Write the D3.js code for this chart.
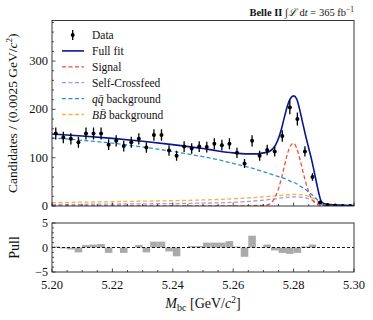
<!DOCTYPE html>
<html>
<head>
<meta charset="utf-8">
<script src="https://cdn.jsdelivr.net/npm/d3@7"></script>
<style>
  body { margin: 0; background: #fff; }
  text { font-family: "Liberation Serif", "DejaVu Serif", serif; fill: #111; }
</style>
</head>
<body>
<div id="chart"></div>
<script>
// binned data, 0.0025 GeV/c^2 per bin, 5.20 - 5.30
const BIN_LO = 5.20;
const BIN_W = 0.0025;
const COUNTS = [150, 142, 139, 132, 150, 150, 150, 127, 135, 124,
                132, 139, 121, 147, 147, 115, 104, 123, 119, 123,
                122, 129, 126, 129, 110, 88, 135, 104, 116, 113,
                145, 204, 180, 113, 60, 7, 2, 1, 0, 0];
const PULLS = [0.2, -0.2, -0.4, -1.0, 0.5, 0.6, 0.7, -1.1, 0.0, -1.1,
               0.0, 0.5, -1.0, 1.2, 1.2, -0.8, -1.8, 0.0, 0.3, 0.3,
               1.0, 1.0, 1.0, 1.3, 0.2, -1.9, 2.4, -0.1, 0.6, -0.6,
               -1.1, -1.3, -1.1, 0.2, 0.6, 0.0, 0.0, 0.0, 0.0, 0.0];

// fit curves sampled at these masses
const X_GRID = [5.200, 5.210, 5.220, 5.230, 5.240, 5.250, 5.255, 5.260, 5.264, 5.268,
                5.270, 5.272, 5.274, 5.275, 5.276, 5.277, 5.278, 5.279, 5.280, 5.281,
                5.282, 5.283, 5.284, 5.285, 5.286, 5.287, 5.288, 5.289, 5.290, 5.292,
                5.295, 5.300];
const FULL_FIT = [149, 145, 140, 134, 127, 119, 114, 110, 108, 108,
                  110, 113, 126, 140, 160, 185, 208, 223, 228, 222,
                  200, 172, 145, 120, 95, 66, 36, 12, 5, 3,
                  2, 1];
const SIGNAL = [0, 0, 0, 0, 0, 0, 0, 0, 0, 1,
                1, 4, 20, 36, 58, 84, 109, 125, 130, 120,
                99, 74, 49, 29, 15, 7, 3, 1, 0, 0,
                0, 0];
const SELF_CF = [3, 3.5, 4, 4.5, 5, 6, 6.5, 7.5, 9, 11,
                 12, 13.5, 15, 16, 17, 17.5, 18, 18.5, 19, 19,
                 18.5, 18, 17, 15, 12.5, 9.5, 6, 3, 1, 0,
                 0, 0];
const QQ_BKG = [141, 136, 130, 122, 113, 102, 96, 88, 82, 75,
                71, 67, 63, 61, 59, 57, 54, 51, 49, 46,
                42, 38, 34, 29, 24, 18, 12, 6, 1, 0,
                0, 0];
const BB_BKG = [7, 8, 9, 10, 11, 12.5, 13.5, 15, 16.5, 18,
                19, 20, 21, 21.5, 22, 22.5, 23, 23.5, 24, 24,
                23.5, 23, 22, 20, 17.5, 14, 9.5, 5, 1.5, 0,
                0, 0];

const X_TICKS = [5.20, 5.22, 5.24, 5.26, 5.28, 5.30];
const Y_TICKS = [0, 100, 200, 300];
const PULL_TICKS = [-5, 0, 5];

const W = 373, H = 320;
const left = 52, right = 354;
const mainTop = 20.5, mainBot = 206;
const pullTop = 223, pullBot = 272;

const svg = d3.select('#chart').append('svg')
  .attr('width', W).attr('height', H);

const x = d3.scaleLinear().domain([5.20, 5.30]).range([left, right]);
const y = d3.scaleLinear().domain([0, 384]).range([mainBot, mainTop]);
const yp = d3.scaleLinear().domain([-5, 5]).range([pullBot, pullTop]);

const bins = COUNTS.map((n, i) => ({
  c: BIN_LO + BIN_W * (i + 0.5), lo: BIN_LO + BIN_W * i, n: n, p: PULLS[i]
}));

// ---- main panel ----
const main = svg.append('g');
main.append('defs').append('clipPath').attr('id', 'clipMain')
  .append('rect').attr('x', left).attr('y', mainTop)
  .attr('width', right - left).attr('height', mainBot - mainTop);

const curves = [
  { name: 'Full fit', vals: FULL_FIT, color: '#0c168c', dash: null, w: 1.6 },
  { name: 'Signal', vals: SIGNAL, color: '#e5533d', dash: '4,2.5', w: 1.3 },
  { name: 'Self-Crossfeed', vals: SELF_CF, color: '#a497e6', dash: '4,2.5', w: 1.3 },
  { name: 'qq', vals: QQ_BKG, color: '#2d8fd2', dash: '4,2.5', w: 1.3 },
  { name: 'BB', vals: BB_BKG, color: '#f9b23c', dash: '4,2.5', w: 1.3 }
];

const line = d3.line()
  .x(d => x(d[0])).y(d => y(d[1]))
  .curve(d3.curveMonotoneX);

const plot = main.append('g').attr('clip-path', 'url(#clipMain)');
// draw backgrounds first, full fit on top
[curves[4], curves[2], curves[1], curves[3], curves[0]].forEach(cv => {
  plot.append('path')
    .attr('d', line(X_GRID.map((v, i) => [v, cv.vals[i]])))
    .attr('fill', 'none')
    .attr('stroke', cv.color)
    .attr('stroke-width', cv.w)
    .attr('stroke-dasharray', cv.dash);
});

// data points
const pts = plot.selectAll('g.pt').data(bins).enter().append('g');
pts.append('line')
  .attr('x1', d => x(d.c)).attr('x2', d => x(d.c))
  .attr('y1', d => y(d.n + Math.sqrt(d.n))).attr('y2', d => y(d.n - Math.sqrt(d.n)))
  .attr('stroke', '#000').attr('stroke-width', 1.3);
pts.append('circle')
  .attr('cx', d => x(d.c)).attr('cy', d => y(d.n)).attr('r', 2)
  .attr('fill', '#000');

// frame + ticks
function frame(g, t, b) {
  g.append('rect').attr('x', left).attr('y', t)
    .attr('width', right - left).attr('height', b - t)
    .attr('fill', 'none').attr('stroke', '#222').attr('stroke-width', 0.9);
}
function xTicks(g, b) {
  const minor = d3.range(0, 21).map(i => 5.20 + i * 0.005);
  g.selectAll(null).data(minor).enter().append('line')
    .attr('x1', d => x(d)).attr('x2', d => x(d))
    .attr('y1', b).attr('y2', (d, i) => b - (i % 4 === 0 ? 3.5 : 2))
    .attr('stroke', '#222').attr('stroke-width', 0.8);
}
function yTicks(g, scale, majors, minors, fs) {
  g.selectAll(null).data(minors).enter().append('line')
    .attr('x1', left).attr('x2', d => left + (majors.includes(d) ? 3.5 : 2))
    .attr('y1', d => scale(d)).attr('y2', d => scale(d))
    .attr('stroke', '#222').attr('stroke-width', 0.8);
  g.selectAll(null).data(majors).enter().append('text')
    .attr('x', left - 4).attr('y', d => scale(d) + 4)
    .attr('text-anchor', 'end').attr('font-size', fs)
    .text(d => d < 0 ? '\u2212' + Math.abs(d) : d);
}

frame(main, mainTop, mainBot);
xTicks(main, mainBot);
yTicks(main, y, Y_TICKS, d3.range(0, 381, 20), 12.5);

// legend
const lg = main.append('g');
const legRows = [
  { label: 'Data', kind: 'data' },
  { label: 'Full fit', cv: curves[0] },
  { label: 'Signal', cv: curves[1] },
  { label: 'Self-Crossfeed', cv: curves[2] },
  { label: 'qq', cv: curves[3] },
  { label: 'BB', cv: curves[4] }
];
legRows.forEach((r, i) => {
  const cy = 35 + i * 15.9;
  if (r.kind === 'data') {
    lg.append('line').attr('x1', 72.7).attr('x2', 72.7)
      .attr('y1', cy - 5).attr('y2', cy + 5)
      .attr('stroke', '#000').attr('stroke-width', 1.3);
    lg.append('circle').attr('cx', 72.7).attr('cy', cy).attr('r', 2).attr('fill', '#000');
  } else {
    lg.append('line').attr('x1', 62).attr('x2', 84)
      .attr('y1', cy).attr('y2', cy)
      .attr('stroke', r.cv.color).attr('stroke-width', r.cv.w)
      .attr('stroke-dasharray', r.cv.dash);
  }
  const t = lg.append('text').attr('x', 92).attr('y', cy + 4).attr('font-size', 11.5);
  if (r.label === 'qq') {
    t.append('tspan').attr('font-style', 'italic').text('qq\u0304');
    t.append('tspan').text(' background');
  } else if (r.label === 'BB') {
    t.append('tspan').attr('font-style', 'italic').text('BB\u0304');
    t.append('tspan').text(' background');
  } else {
    t.text(r.label);
  }
});

// title
const title = svg.append('text').attr('x', 354).attr('y', 16)
  .attr('text-anchor', 'end').attr('font-size', 10.5);
title.append('tspan').attr('font-weight', 'bold').text('Belle II ');
title.append('tspan').text('\u222B');
title.append('tspan').attr('font-style', 'italic').text('\u2112');
title.append('tspan').text(' d');
title.append('tspan').attr('font-style', 'italic').text('t');
title.append('tspan').text(' = 365 fb');
title.append('tspan').attr('font-size', 7.5).attr('dy', -4).text('\u22121');

// y label
const yl = svg.append('text')
  .attr('transform', `translate(17,${(mainTop + mainBot) / 2}) rotate(-90)`)
  .attr('text-anchor', 'middle').attr('font-size', 13.5);
yl.append('tspan').text('Candidates / (0.0025 GeV/');
yl.append('tspan').attr('font-style', 'italic').text('c');
yl.append('tspan').attr('font-size', 9).attr('dy', -5).text('2');
yl.append('tspan').attr('dy', 5).text(')');

// ---- pull panel ----
const pull = svg.append('g');
pull.selectAll('rect.bar').data(bins).enter().append('rect')
  .attr('x', d => x(d.lo)).attr('width', x(BIN_LO + BIN_W) - x(BIN_LO))
  .attr('y', d => yp(Math.max(0, d.p)))
  .attr('height', d => Math.abs(yp(d.p) - yp(0)))
  .attr('fill', '#aaaaaa');
pull.append('line')
  .attr('x1', left).attr('x2', right).attr('y1', yp(0)).attr('y2', yp(0))
  .attr('stroke', '#000').attr('stroke-width', 0.9).attr('stroke-dasharray', '3,2');
frame(pull, pullTop, pullBot);
xTicks(pull, pullBot);
yTicks(pull, yp, PULL_TICKS, d3.range(-5, 6, 1), 12);

pull.selectAll(null).data(X_TICKS).enter().append('text')
  .attr('x', d => x(d)).attr('y', pullBot + 17)
  .attr('text-anchor', 'middle').attr('font-size', 12.5)
  .text(d => d.toFixed(2));

svg.append('text')
  .attr('transform', `translate(19,${(pullTop + pullBot) / 2}) rotate(-90)`)
  .attr('text-anchor', 'middle').attr('font-size', 14).text('Pull');

const xl = svg.append('text').attr('x', (left + right) / 2).attr('y', 308)
  .attr('text-anchor', 'middle').attr('font-size', 14);
xl.append('tspan').attr('font-style', 'italic').text('M');
xl.append('tspan').attr('font-size', 10).attr('dy', 3).text('bc');
xl.append('tspan').attr('dy', -3).text(' [GeV/');
xl.append('tspan').attr('font-style', 'italic').text('c');
xl.append('tspan').attr('font-size', 9.5).attr('dy', -5).text('2');
xl.append('tspan').attr('dy', 5).text(']');
</script>
</body>
</html>
